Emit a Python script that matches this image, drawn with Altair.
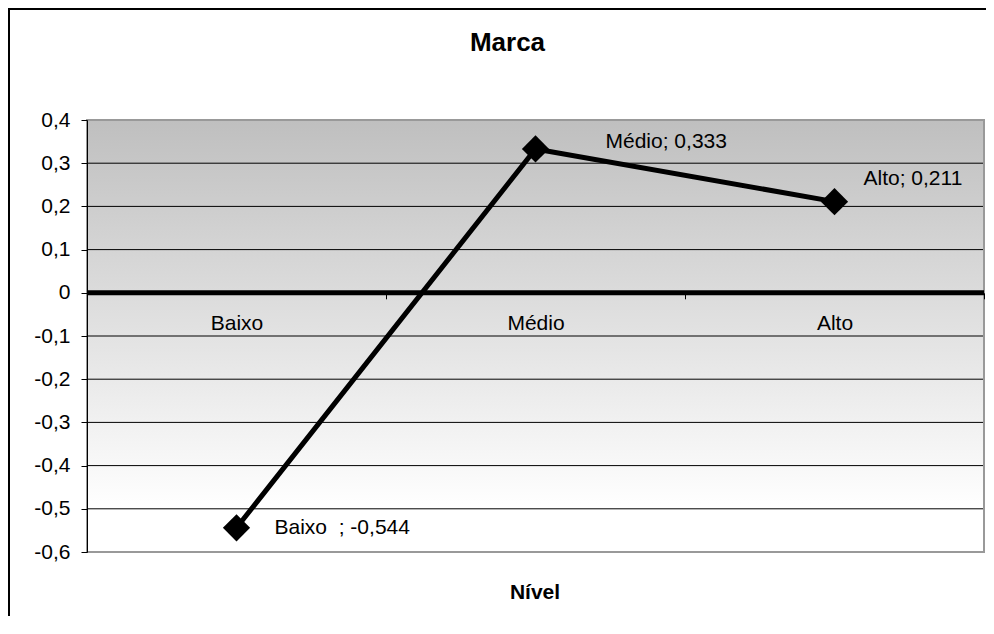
import altair as alt
import pandas as pd

# ---- data ----
categories = ["Baixo\u00a0\u00a0", "Médio", "Alto"]
values = [-0.544, 0.333, 0.211]
y_ticks = [0.4, 0.3, 0.2, 0.1, 0.0, -0.1, -0.2, -0.3, -0.4, -0.5, -0.6]
chart_title = "Marca"
x_title = "Nível"

labels = [f"{c}; {v:.3f}".replace(".", ",") for c, v in zip(categories, values)]
df = pd.DataFrame({"nivel": categories, "valor": values, "rotulo": labels})
ticks_df = pd.DataFrame({"tick": y_ticks})
one = pd.DataFrame({"k": [0]})
title_df = pd.DataFrame({"t": [chart_title]})
xtitle_df = pd.DataFrame({"t": [x_title]})

W, H = 897, 432
FONT = "Liberation Sans"
FS = 21

x_scale = alt.Scale(type="band", paddingInner=0, paddingOuter=0)
y_scale = alt.Scale(domain=[-0.6, 0.4], nice=False, zero=False)
zero_offset = -(H - H * 0.4 / 1.0)

x_axis = alt.Axis(
    title=None, orient="bottom", offset=zero_offset, domain=False,
    ticks=True, tickBand="extent", tickSize=6, tickColor="black", tickWidth=1,
    labelFont=FONT, labelFontSize=FS, labelColor="black", labelAngle=0,
    labelPadding=14, labelBaseline="top", grid=False, zindex=1,
)
y_axis = alt.Axis(
    title=None, values=y_ticks, grid=False, domain=True, domainColor="black",
    domainWidth=1, tickColor="black", tickSize=6, tickWidth=1,
    labelFont=FONT, labelFontSize=FS, labelColor="black", labelPadding=11,
    labelExpr="replace(replace(format(datum.value, '.1~f'), '.', ','), '\u2212', '-')",
    zindex=1,
)

grad = alt.LinearGradient(
    gradient="linear",
    stops=[
        alt.GradientStop(color="#bfbfbf", offset=0),
        alt.GradientStop(color="#ffffff", offset=0.9),
        alt.GradientStop(color="#ffffff", offset=1),
    ],
    x1=0, x2=0, y1=0, y2=1,
)

bg = alt.Chart(one).mark_rect(color=grad).encode(
    x=alt.value(0), x2=alt.value(W), y=alt.value(0), y2=alt.value(H)
)

grid = alt.Chart(ticks_df).mark_rule(color="black", strokeWidth=1).encode(
    y=alt.Y("tick:Q", scale=y_scale, axis=y_axis)
)

border = alt.Chart(one).mark_rect(fillOpacity=0, stroke="#999999", strokeWidth=2).encode(
    x=alt.value(0), x2=alt.value(W), y=alt.value(0), y2=alt.value(H)
)

zero = alt.Chart(one).mark_rule(color="black", strokeWidth=5).encode(
    y=alt.datum(0)
)

base = alt.Chart(df).encode(
    x=alt.X("nivel:N", sort=categories, scale=x_scale, axis=x_axis),
    y=alt.Y("valor:Q", scale=y_scale, axis=y_axis),
)

line = base.mark_line(color="black", strokeWidth=5)
pts = base.mark_point(shape="diamond", filled=True, size=740, color="black", opacity=1)

def lab(cat, dx, dy):
    return base.mark_text(
        align="left", baseline="alphabetic", dx=dx, dy=dy,
        font=FONT, fontSize=FS, color="black",
    ).encode(text="rotulo:N").transform_filter(alt.datum.nivel == cat)

lab_b = lab(categories[0], 38, 6)
lab_m = lab(categories[1], 70, -1)
lab_a = lab(categories[2], 29, -17)

title_t = alt.Chart(title_df).mark_text(
    align="center", baseline="alphabetic", font=FONT, fontSize=26,
    fontWeight="bold", color="black",
).encode(text="t:N", x=alt.value(420.5), y=alt.value(-69))

xtitle_t = alt.Chart(xtitle_df).mark_text(
    align="center", baseline="alphabetic", font=FONT, fontSize=FS,
    fontWeight="bold", color="black",
).encode(text="t:N", x=alt.value(448), y=alt.value(478.5))

outer_left = alt.Chart(one).mark_rule(color="black", strokeWidth=2).encode(
    x=alt.value(-78), y=alt.value(-112), y2=alt.value(500)
)
outer_top = alt.Chart(one).mark_rule(color="black", strokeWidth=2).encode(
    x=alt.value(-79), x2=alt.value(899), y=alt.value(-111)
)

chart = alt.layer(
    bg, grid, border, zero, line, pts, lab_b, lab_m, lab_a,
    title_t, xtitle_t, outer_left, outer_top,
).properties(
    width=W, height=H,
    padding={"left": 79, "top": 112, "right": 2, "bottom": 64},
    autosize=alt.AutoSizeParams(type="none"),
).configure_view(strokeWidth=0).configure(font=FONT)

chart.save("out.html", embed_options={"renderer": "svg", "actions": False})
